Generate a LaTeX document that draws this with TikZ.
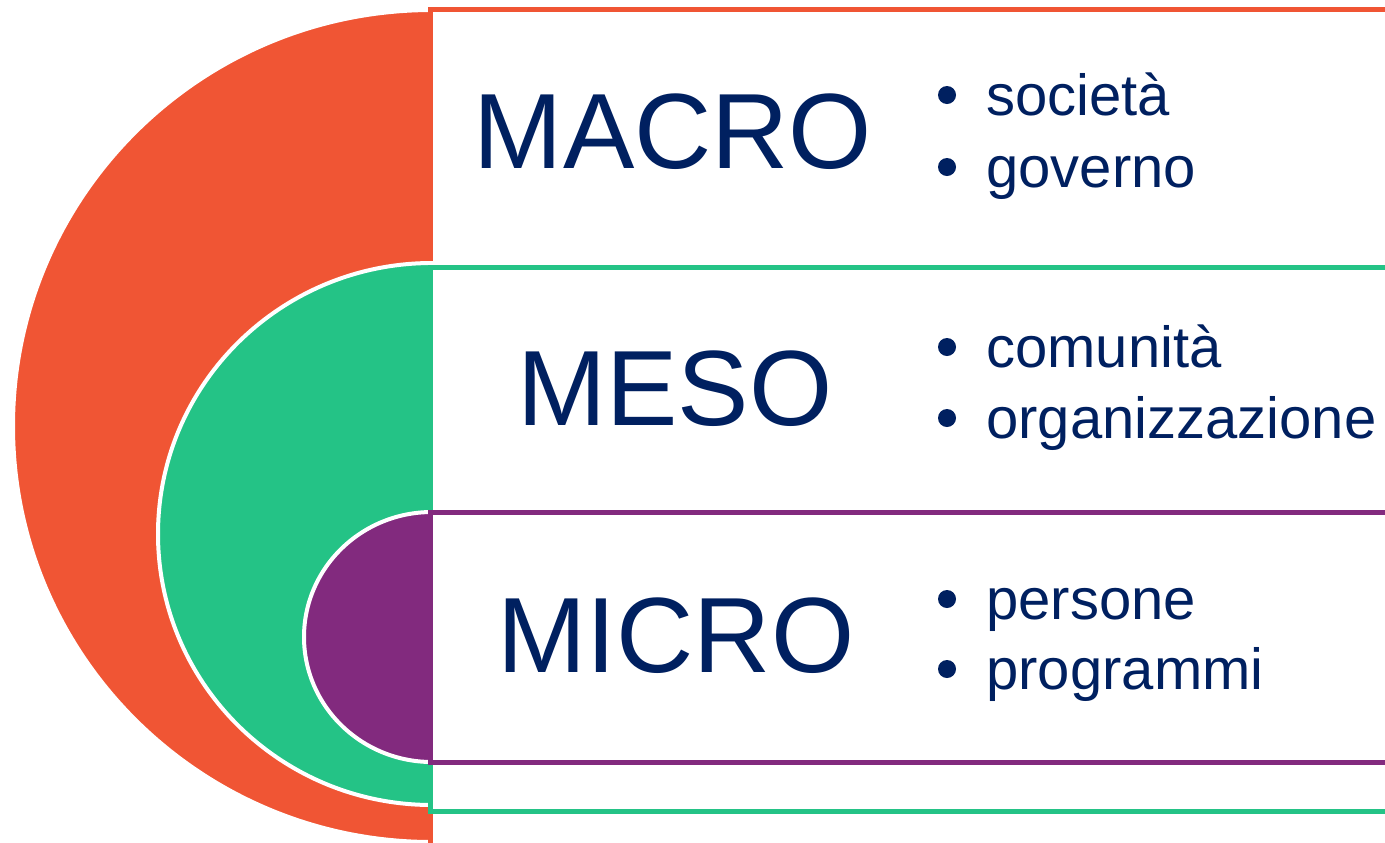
\documentclass[tikz,border=0pt]{standalone}
\usepackage{fontspec}
\setmainfont{Liberation Sans}
\usepackage{tikz}
\usepackage{color}
\definecolor{macrored}{RGB}{240,85,52}
\definecolor{mesogreen}{RGB}{36,195,134}
\definecolor{micropurple}{RGB}{130,42,126}
\definecolor{navy}{RGB}{0,32,96}

\begin{document}
\begin{tikzpicture}[x=0.5pt,y=0.5pt]
						\tikzstyle{every node}+=[inner sep=0pt]
						\tikzstyle{level}=[font=\fontsize{53.5}{64}\selectfont, text=navy, anchor=base]
						\tikzstyle{item}=[font=\fontsize{29}{35}\selectfont, text=navy, anchor=base west]
						\tikzstyle{dot}=[circle, fill=navy, minimum size=9pt]
						\tikzstyle{half}=[draw=white, line width=2pt]
						\tikzstyle{band}=[fill=white, line width=2.5pt]
						\useasboundingbox (0,0) rectangle (1385,-842);
						\clip (0,0) rectangle (1385,-842);
						% macro
						\filldraw [half, fill=macrored] (432,-10) arc [start angle=90, end angle=270, x radius=419, y radius=416] -- cycle;
						\draw [band, draw=macrored] (430,-9) rectangle (1400,-850);
						% meso
						\filldraw [half, fill=mesogreen] (432,-263) arc [start angle=90, end angle=270, x radius=274, y radius=271] -- cycle;
						\draw [band, draw=mesogreen] (430,-267) rectangle (1400,-811);
						% micro
						\filldraw [half, fill=micropurple] (432,-512) arc [start angle=90, end angle=270, x radius=128, y radius=125] -- cycle;
						\draw [band, draw=micropurple] (430,-512) rectangle (1400,-762);
						% labels
						\node [level] (macro) at (673,-168) {MACRO};
						\node [level] (meso) at (675,-425) {MESO};
						\node [level] (micro) at (676,-672) {MICRO};
						\node [dot] (d1) at (947,-95) {};
						\node [item] (societa) at (986,-115) {società};
						\node [dot] (d2) at (947,-167) {};
						\node [item] (governo) at (986,-187) {governo};
						\node [dot] (d3) at (947,-347) {};
						\node [item] (comunita) at (986,-367) {comunità};
						\node [dot] (d4) at (947,-418) {};
						\node [item] (organizzazione) at (986,-438) {organizzazione};
						\node [dot] (d5) at (947,-599) {};
						\node [item] (persone) at (986,-619) {persone};
						\node [dot] (d6) at (947,-669) {};
						\node [item] (programmi) at (986,-689) {programmi};
					\end{tikzpicture}
\end{document}
